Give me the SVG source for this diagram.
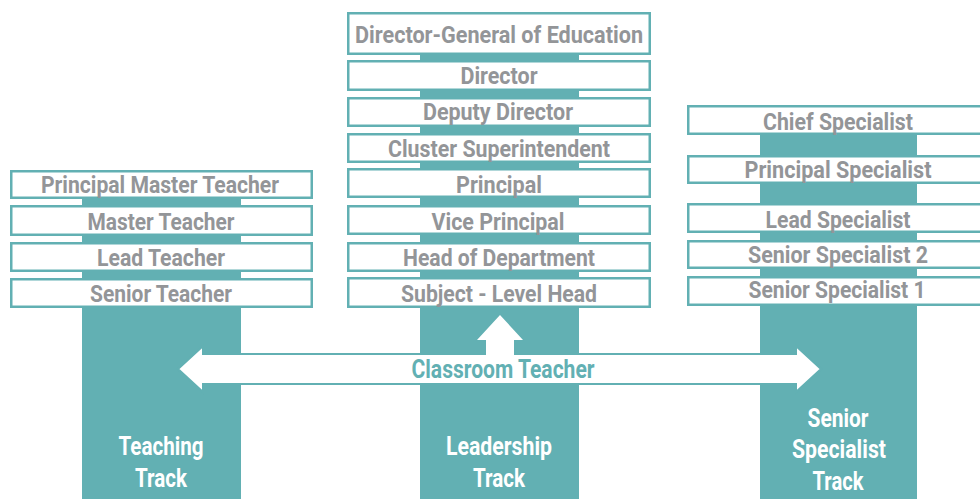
<svg xmlns="http://www.w3.org/2000/svg" width="980" height="499" viewBox="0 0 980 499">
<style>
.bar{fill:#62b0b3}
.box{fill:#fff;stroke:#62b0b3;stroke-width:2.5}
.t{font-family:Roboto,"Liberation Sans",sans-serif;font-weight:700;font-size:24px;fill:#939598;text-anchor:middle}
.w{font-family:Roboto,"Liberation Sans",sans-serif;font-weight:700;font-size:26px;fill:#fff;text-anchor:middle}
.c{font-family:Roboto,"Liberation Sans",sans-serif;font-weight:700;font-size:26px;fill:#62b0b3;text-anchor:middle}
</style>
<rect width="980" height="499" fill="#fff"/>
<g id="bars">
<rect class="bar" x="82" y="185" width="159" height="314"/>
<rect class="bar" x="420" y="30" width="159" height="469"/>
<rect class="bar" x="760" y="120" width="157" height="379"/>
</g>
<g id="connectors">
<polygon points="178,369 203,346 203,354 796,354 796,346 821,369 796,392 796,384 203,384 203,392" fill="#fff" stroke="#62b0b3" stroke-width="2"/>
<polygon points="500,315 523,340 514,340 514,356 486,356 486,340 477,340" fill="#fff"/>
<text class="c" x="503" y="378" textLength="183" lengthAdjust="spacingAndGlyphs">Classroom Teacher</text>
</g>
<g id="teaching-track">
<g id="principal-master-teacher"><rect class="box" x="11.25" y="171.25" width="300.5" height="26.5"/><text class="t" x="160" y="193" textLength="238" lengthAdjust="spacingAndGlyphs">Principal Master Teacher</text></g>
<g id="master-teacher"><rect class="box" x="11.25" y="206.25" width="300.5" height="28.5"/><text class="t" x="161" y="230" textLength="147" lengthAdjust="spacingAndGlyphs">Master Teacher</text></g>
<g id="lead-teacher"><rect class="box" x="11.25" y="243.25" width="300.5" height="27.5"/><text class="t" x="161" y="266" textLength="128" lengthAdjust="spacingAndGlyphs">Lead Teacher</text></g>
<g id="senior-teacher"><rect class="box" x="11.25" y="279.25" width="300.5" height="27.5"/><text class="t" x="161" y="302" textLength="142" lengthAdjust="spacingAndGlyphs">Senior Teacher</text></g>
<g id="teaching-label"><text class="w" x="161" y="455" textLength="85" lengthAdjust="spacingAndGlyphs">Teaching</text><text class="w" x="161" y="487" textLength="52" lengthAdjust="spacingAndGlyphs">Track</text></g>
</g>
<g id="leadership-track">
<g id="director-general"><rect class="box" x="348.25" y="13.25" width="301.5" height="40.5"/><text class="t" x="499" y="43" font-size="26" textLength="288" lengthAdjust="spacingAndGlyphs">Director-General of Education</text></g>
<g id="director"><rect class="box" x="348.25" y="61.25" width="301.5" height="28.5"/><text class="t" x="499" y="84" textLength="77" lengthAdjust="spacingAndGlyphs">Director</text></g>
<g id="deputy-director"><rect class="box" x="348.25" y="98.25" width="301.5" height="27.5"/><text class="t" x="498" y="120" textLength="150" lengthAdjust="spacingAndGlyphs">Deputy Director</text></g>
<g id="cluster-superintendent"><rect class="box" x="348.25" y="134.25" width="301.5" height="27.5"/><text class="t" x="499" y="157" textLength="222" lengthAdjust="spacingAndGlyphs">Cluster Superintendent</text></g>
<g id="principal"><rect class="box" x="348.25" y="169.25" width="301.5" height="27.5"/><text class="t" x="499" y="193" textLength="86" lengthAdjust="spacingAndGlyphs">Principal</text></g>
<g id="vice-principal"><rect class="box" x="348.25" y="206.25" width="301.5" height="27.5"/><text class="t" x="498" y="230" textLength="133" lengthAdjust="spacingAndGlyphs">Vice Principal</text></g>
<g id="head-of-department"><rect class="box" x="348.25" y="243.25" width="301.5" height="27.5"/><text class="t" x="499" y="266" textLength="192" lengthAdjust="spacingAndGlyphs">Head of Department</text></g>
<g id="subject-level-head"><rect class="box" x="348.25" y="278.25" width="301.5" height="28.5"/><text class="t" x="499" y="302" textLength="196" lengthAdjust="spacingAndGlyphs">Subject - Level Head</text></g>
<g id="leadership-label"><text class="w" x="499" y="455" textLength="106" lengthAdjust="spacingAndGlyphs">Leadership</text><text class="w" x="499" y="487" textLength="52" lengthAdjust="spacingAndGlyphs">Track</text></g>
</g>
<g id="specialist-track">
<g id="chief-specialist"><rect class="box" x="688.25" y="106.25" width="300" height="27.5"/><text class="t" x="838" y="130" textLength="150" lengthAdjust="spacingAndGlyphs">Chief Specialist</text></g>
<g id="principal-specialist"><rect class="box" x="688.25" y="156.25" width="300" height="26.5"/><text class="t" x="838" y="178" textLength="187" lengthAdjust="spacingAndGlyphs">Principal Specialist</text></g>
<g id="lead-specialist"><rect class="box" x="688.25" y="204.25" width="300" height="27.5"/><text class="t" x="838" y="228" textLength="145" lengthAdjust="spacingAndGlyphs">Lead Specialist</text></g>
<g id="senior-specialist-2"><rect class="box" x="688.25" y="241.25" width="300" height="26.5"/><text class="t" x="838" y="263" textLength="180" lengthAdjust="spacingAndGlyphs">Senior Specialist 2</text></g>
<g id="senior-specialist-1"><rect class="box" x="688.25" y="277.25" width="300" height="27.5"/><text class="t" x="837" y="298" textLength="177" lengthAdjust="spacingAndGlyphs">Senior Specialist 1</text></g>
<g id="specialist-label"><text class="w" x="838" y="427" textLength="61" lengthAdjust="spacingAndGlyphs">Senior</text><text class="w" x="839" y="458" textLength="94" lengthAdjust="spacingAndGlyphs">Specialist</text><text class="w" x="838" y="490" textLength="51" lengthAdjust="spacingAndGlyphs">Track</text></g>
</g>
</svg>
